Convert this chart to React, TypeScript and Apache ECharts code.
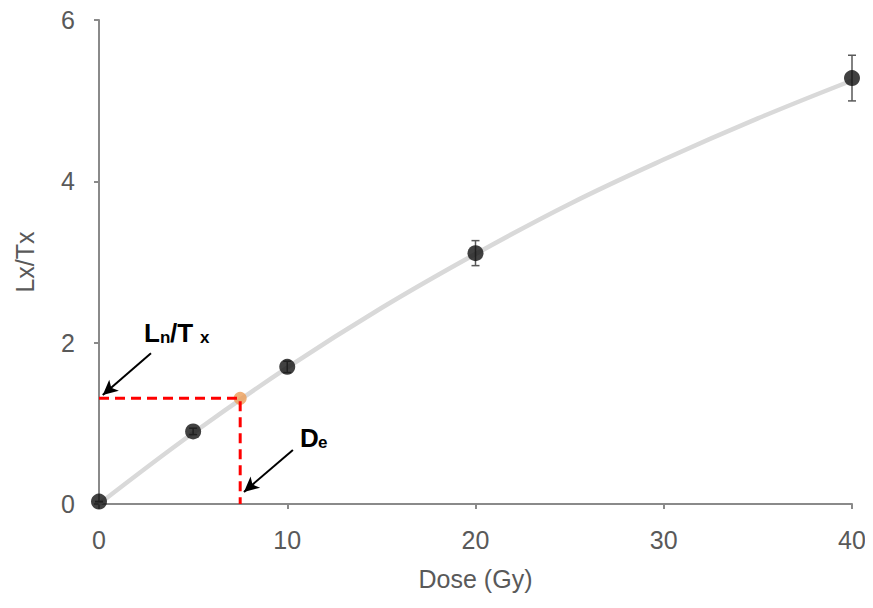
import React, { useEffect, useRef } from "react";
import * as echarts from "echarts";

const doseValues = [0, 5, 10, 20, 40];
const lxtxValues = [0.03, 0.9, 1.7, 3.11, 5.28];
const errValues = [0.0, 0.04, 0.07, 0.155, 0.283];
const curveDose = [0, 5, 10, 15, 20, 25, 30, 35, 40];
const curveLxTx = [0, 0.88, 1.69, 2.43, 3.1, 3.72, 4.27, 4.78, 5.25];
const naturalDose = [7.5];
const naturalLnTn = [1.31];
const xTicks = [0, 10, 20, 30, 40];
const yTicks = [0, 2, 4, 6];

const AXIS_COLOR = "#8a8a8a";
const LABEL_COLOR = "#595959";
const FONT = "Liberation Sans, Arial, sans-serif";

export default function App() {
  const ref = useRef<HTMLDivElement>(null);
  useEffect(() => {
    if (!ref.current) return;
    const chart = echarts.init(ref.current, undefined, { renderer: "svg" });
    const pts = doseValues.map((d, i) => [d, lxtxValues[i]]);
    const errs = doseValues.map((d, i) => [d, lxtxValues[i] - errValues[i], lxtxValues[i] + errValues[i]]);
    const curve = curveDose.map((d, i) => [d, curveLxTx[i]]);
    const nat = [naturalDose[0], naturalLnTn[0]];
    const axisCommon = {
      axisLine: { show: true, lineStyle: { color: AXIS_COLOR, width: 2 } },
      axisTick: { show: true, inside: false, length: 5, lineStyle: { color: AXIS_COLOR, width: 2 } },
      splitLine: { show: false },
      axisLabel: { color: LABEL_COLOR, fontSize: 25, fontFamily: FONT, margin: 24 },
      nameTextStyle: { color: LABEL_COLOR, fontSize: 25, fontFamily: FONT },
    };
    const bold = (s: number) => `bold ${s}px ${FONT}`;
    chart.setOption({
      animation: false,
      grid: { left: 99, right: 21, top: 20, bottom: 104, containLabel: false },
      xAxis: {
        type: "value",
        min: xTicks[0],
        max: xTicks[xTicks.length - 1],
        interval: 10,
        name: "Dose (Gy)",
        nameLocation: "middle",
        nameGap: 62,
        ...axisCommon,
        axisLabel: { ...axisCommon.axisLabel, margin: 23 },
      },
      yAxis: {
        type: "value",
        min: yTicks[0],
        max: yTicks[yTicks.length - 1],
        interval: 2,
        name: "Lx/Tx",
        nameLocation: "middle",
        nameGap: 62,
        ...axisCommon,
      },
      series: [
        {
          type: "line",
          data: curve,
          smooth: 0.4,
          showSymbol: false,
          symbol: "none",
          lineStyle: { color: "#d9d9d9", width: 4.5 },
          z: 1,
        },
        {
          type: "custom",
          data: errs,
          z: 2,
          renderItem: (params: any, api: any) => {
            const x = api.value(0);
            const lo = api.coord([x, api.value(1)]);
            const hi = api.coord([x, api.value(2)]);
            const w = 4;
            const st = { stroke: "#595959", lineWidth: 1.5 };
            return {
              type: "group",
              children: [
                { type: "line", shape: { x1: lo[0], y1: lo[1], x2: hi[0], y2: hi[1] }, style: st },
                { type: "line", shape: { x1: lo[0] - w, y1: lo[1], x2: lo[0] + w, y2: lo[1] }, style: st },
                { type: "line", shape: { x1: hi[0] - w, y1: hi[1], x2: hi[0] + w, y2: hi[1] }, style: st },
              ],
            };
          },
        },
        {
          type: "scatter",
          data: pts,
          symbol: "circle",
          symbolSize: 16,
          itemStyle: { color: "#111111" },
          z: 3,
        },
        {
          type: "scatter",
          data: [nat],
          symbol: "circle",
          symbolSize: 13,
          itemStyle: { color: "#ec9d58" },
          z: 3,
        },
        {
          type: "line",
          data: [[0, nat[1]], nat, [nat[0], 0]],
          symbol: "none",
          lineStyle: { color: "#ff0000", width: 3, type: [10, 6] },
          z: 4,
          markLine: {
            silent: true,
            symbol: ["none", "arrow"],
            symbolSize: [11, 15],
            label: { show: false },
            lineStyle: { color: "#000000", width: 2, type: "solid" },
            data: [
              [{ coord: [2.76, 1.87] }, { coord: [0.2, 1.35] }],
              [{ coord: [10.3, 0.67] }, { coord: [7.7, 0.15] }],
            ],
          },
        },
      ],
      graphic: [
        { type: "text", x: 144, y: 320, style: { text: "L", font: bold(26), fill: "#000" } },
        { type: "text", x: 160, y: 329, style: { text: "n", font: bold(17), fill: "#000" } },
        { type: "text", x: 170, y: 320, style: { text: "/T", font: bold(26), fill: "#000" } },
        { type: "text", x: 200, y: 329, style: { text: "x", font: bold(17), fill: "#000" } },
        { type: "text", x: 300, y: 425, style: { text: "D", font: bold(26), fill: "#000" } },
        { type: "text", x: 318, y: 434, style: { text: "e", font: bold(17), fill: "#000" } },
      ],
    });
    return () => chart.dispose();
  }, []);
  return <div ref={ref} style={{ width: 873, height: 608, margin: -8 }} />;
}
